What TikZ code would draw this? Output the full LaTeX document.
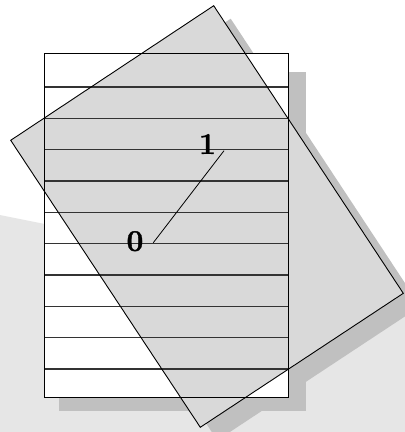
\documentclass[tikz,border=0pt]{standalone}
\usepackage{fontspec}
\setmainfont{Latin Modern Roman}
\usetikzlibrary{calc}
\definecolor{bggray}{HTML}{E6E6E6}
\definecolor{shadowgray}{HTML}{C0C0C0}
\definecolor{sheetgray}{HTML}{D9D9D9}
\definecolor{rulegray}{HTML}{333333}
\tikzset{
  paperborder/.style={draw=black, line width=1.3pt},
  paperrule/.style={draw=rulegray, line width=1.2pt},
  sheetborder/.style={draw=black, line width=0.9pt, line join=miter},
  digit/.style={inner sep=0pt, font=\bfseries\fontsize{30}{31}\selectfont\addfontfeature{FakeBold=1.2}},
  link/.style={draw=black, line width=0.8pt}
}
\begin{document}
\begin{tikzpicture}[x=1pt,y=-1pt]
\useasboundingbox (0,0) rectangle (405,432);
\begin{scope}
\clip (0,0) rectangle (405,432);
% light background plane
\fill[bggray] (0,215) -- (405,296) -- (405,432) -- (0,432) -- cycle;
% rotated sheet corners
\coordinate (T) at (213.7,5.7);
\coordinate (R) at (403.3,293.3);
\coordinate (B) at (200.3,427.3);
\coordinate (L) at (10.7,140.3);
% shadow of rotated sheet
\fill[shadowgray] ($(T)+(17,13)$) -- ($(R)+(17,13)$) -- ($(B)+(17,13)$) -- ($(L)+(17,13)$) -- cycle;
% shadow of paper
\fill[shadowgray] (59,71.7) rectangle (306,410.7);
% paper
\fill[white] (44.7,53.3) rectangle (288.7,397.7);
% rotated sheet fill
\fill[sheetgray] (T) -- (R) -- (B) -- (L) -- cycle;
% paper rules
\foreach \k in {0,...,9}{
  \draw[paperrule] (44.7,{87+31.33*\k}) -- (288.7,{87+31.33*\k});
}
\draw[paperborder] (44.7,53.3) rectangle (288.7,397.7);
% rotated sheet border
\draw[sheetborder] (T) -- (R) -- (B) -- (L) -- cycle;
\end{scope}
% labels and link
\node[digit] (zero) at (135,241.2) {0};
\node[digit] (one) at (207.5,144) {1};
\coordinate (zeroend) at (153.3,242.7);
\coordinate (oneend) at (224,150.7);
\draw[link] (zeroend) -- (oneend);
\end{tikzpicture}
\end{document}
